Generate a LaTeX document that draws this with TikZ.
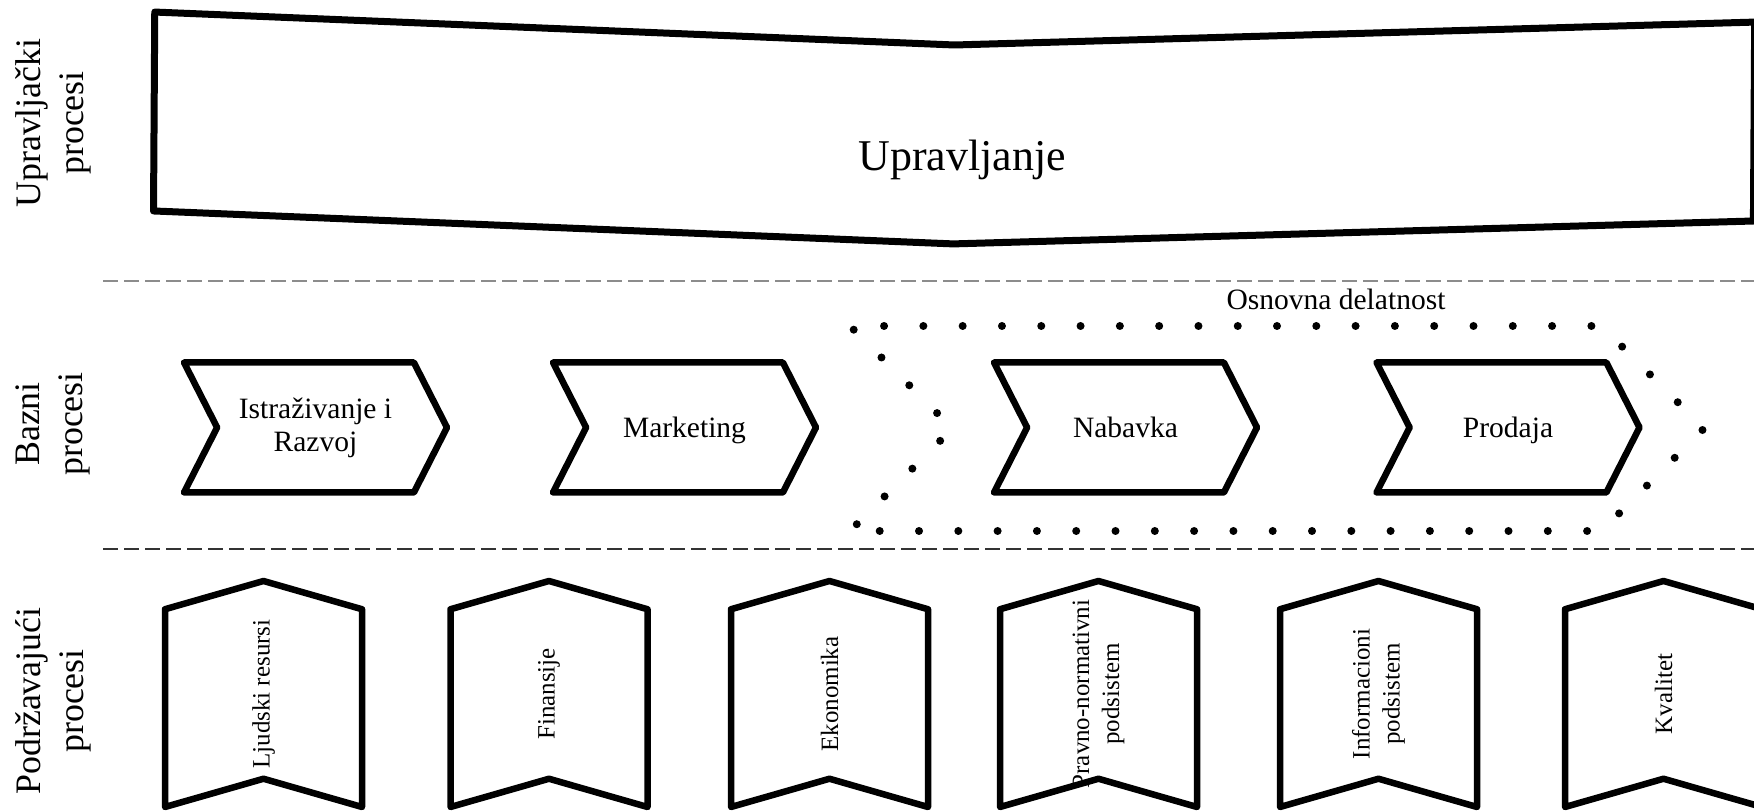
\documentclass[tikz,border=0pt]{standalone}
\usepackage{fontspec}
\setmainfont{Liberation Serif}
\usetikzlibrary{positioning}
\usetikzlibrary{shapes.symbols}
\colorlet{frame colour}{black}
\colorlet{divider colour}{black!45}
\colorlet{lower divider colour}{black!80}
\tikzset{
    % Thick outline shared by every process shape
    process/.style={draw=frame colour, signal, line width=0.65mm,
        line join=round, inner sep=0pt},
%
    % The three kinds of process
    managing/.style={process, line width=0.7mm,
        signal from=north, signal to=south, signal pointer angle=176,
        minimum width=16cm, minimum height=1.71cm},
    core/.style={process, signal from=west, signal to=east,
        signal pointer angle=126, minimum width=2.63cm, minimum height=1.30cm,
        font=\fontsize{8.4}{9.4}\selectfont},
    support/.style={process, rotate=90, signal from=west, signal to=east,
        signal pointer angle=148, minimum width=2.26cm, minimum height=1.97cm,
        font=\fontsize{7.1}{8.5}\selectfont},
%
    % Dotted outline round the core activity
    core group/.style={draw, signal, signal from=west, signal to=east,
        signal pointer angle=90, minimum width=8.54cm, minimum height=2.05cm,
        line width=0.8mm, line cap=round, dash pattern=on 0pt off 3.93mm},
%
    % Lines between the rows, and the row titles
    divider/.style={draw=divider colour, line width=0.2mm,
        dash pattern=on 1.5mm off 0.6mm},
    row title/.style={rotate=90, font=\fontsize{10.2}{12.2}\selectfont},
    every node/.style={align=center},
}

\begin{document}
\begin{tikzpicture}
\useasboundingbox (0,0) rectangle (17.54,-8.12);

% Row titles
\node (title managing) [row title] at (0.53,-1.23) {Upravljački\\procesi};
\node (title core) [row title] at (0.53,-4.24) {Bazni\\procesi};
\node (title support) [row title] at (0.53,-7.01) {Podržavajući\\procesi};

% Row dividers
\draw [divider] (1.03,-2.81) -- (17.54,-2.81);
\draw [divider, draw=lower divider colour] (1.03,-5.49) -- (17.54,-5.49);

% Management
\node (managing) [managing, rotate=-0.36] at (9.54,-1.305) {};
\node (managing text) [font=\fontsize{12.5}{15}\selectfont]
    at ([xshift=0.8mm, yshift=-2.9mm]managing.center) {Upravljanje};

% Core processes
\node (research) [core] at (3.155,-4.275) {Istraživanje i\\Razvoj};
\node (marketing) [core, text depth=0pt] at (6.845,-4.275) {Marketing};
\node (procurement) [core] at (11.255,-4.275) {Nabavka};
\node (sales) [core, text depth=0pt] at (15.08,-4.275) {Prodaja};
\node (core activity) [core group,
    label={[name=core title, xshift=5.9mm, label distance=0mm,
        font=\fontsize{8.4}{10}\selectfont]above:Osnovna delatnost}]
    at (12.77,-4.285) {};

% Support processes
\node (people) [support] at (2.635,-6.94) {Ljudski resursi};
\node (finance) [support] at (5.49,-6.94) {Finansije};
\node (economics) [support] at (8.295,-6.94) {Ekonomika};
\node (legal) [support] at (10.985,-6.94)
    {\makebox[0pt]{Pravno-normativni}\\podsistem};
\node (information) [support] at (13.785,-6.94) {Informacioni\\podsistem};
\node (quality) [support] at (16.635,-6.94) {Kvalitet};

\end{tikzpicture}
\end{document}
